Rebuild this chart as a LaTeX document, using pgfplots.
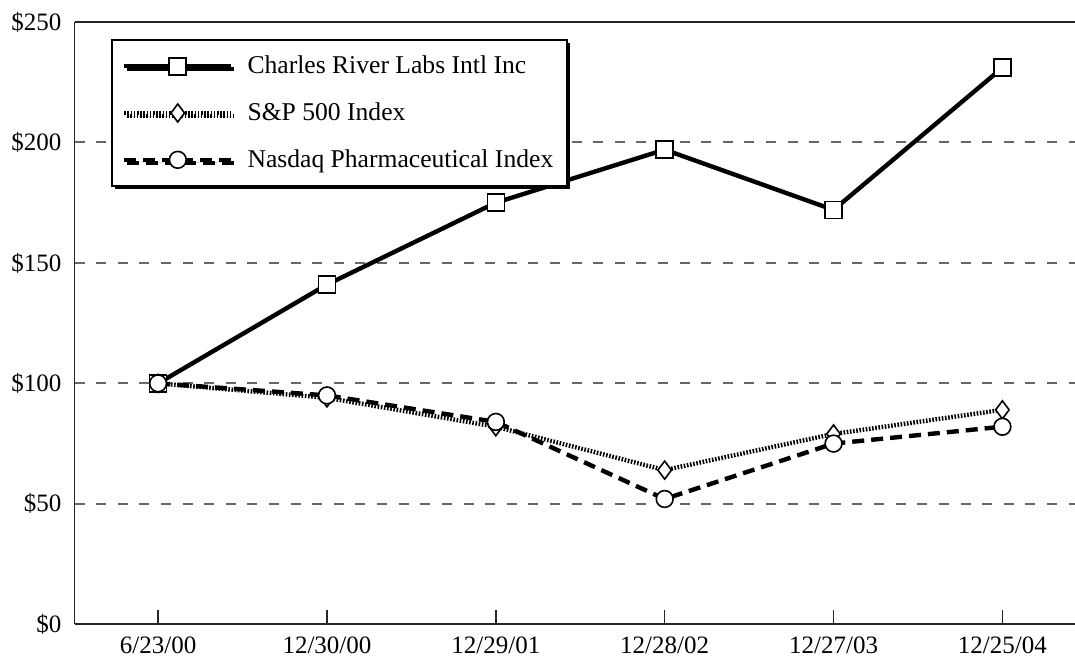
\documentclass[border=0pt]{standalone}
\usepackage{pgfplots}
\pgfplotsset{compat=1.18}
\usepackage{fontspec}
\setmainfont{Liberation Serif}
\usetikzlibrary{shadows}
\begin{document}
\begin{tikzpicture}
\begin{axis}[
  scale only axis, width=500pt, height=301pt,
  xmin=-0.495, xmax=5.43, ymin=0, ymax=250,
  axis y line*=left,
  axis line style={draw=black!85, line width=0.8pt},
  xtick={0,1,2,3,4,5},
  xticklabels={6/23/00,12/30/00,12/29/01,12/28/02,12/27/03,12/25/04},
  xtick pos=bottom, xtick align=inside,
  xtick style={draw=black!85, line width=0.8pt},
  major tick length=7pt,
  ytick={0,50,100,150,200,250},
  yticklabels={\$0,\$50,\$100,\$150,\$200,\$250},
  ytick style={draw=none},
  extra y ticks={50,100,150,200},
  extra y tick labels={},
  extra y tick style={ymajorgrids=true, ytick style={draw=none}},
  grid style={draw=black!60, line width=1pt, dash pattern=on 5pt off 5.8pt},
  tick label style={font=\fontsize{12.5}{15}\selectfont},
  yticklabel style={xshift=-3pt},
  xticklabel style={yshift=-3pt},
  legend style={at={(0.0365,0.972)}, anchor=north west, draw=black, line width=1pt,
    fill=white, font=\fontsize{12.8}{15}\selectfont, row sep=9pt,
    inner xsep=5pt, inner ysep=6pt,
    drop shadow={shadow xshift=1.5pt, shadow yshift=-1.5pt, fill=black, opacity=1}},
  legend cell align=left,
  legend image code/.code={\draw[mark repeat=2, mark phase=2] plot coordinates {(0pt,0pt) (26.75pt,0pt) (53.5pt,0pt)};
    \path (58.5pt,0pt);},
]
\addplot[black, line width=2.2pt, mark=square*, mark size=4.25pt,
  mark options={fill=white, solid, line width=0.8pt}]
  coordinates {(0,100) (1,141) (2,175) (3,197) (4,172) (5,231)};
\addlegendentry{Charles River Labs Intl Inc}
\addplot[black, line width=2.2pt, dash pattern=on 0.8pt off 0.8pt, mark=diamond*, mark size=4.5pt,
  mark options={fill=white, solid, line width=0.8pt}]
  coordinates {(0,100) (1,94) (2,82) (3,64) (4,79) (5,89)};
\addlegendentry{S\&P 500 Index}
\addplot[black, line width=2.2pt, dash pattern=on 6pt off 3.5pt, mark=*, mark size=4.2pt,
  mark options={fill=white, solid, line width=0.8pt}]
  coordinates {(0,100) (1,95) (2,84) (3,52) (4,75) (5,82)};
\addlegendentry{Nasdaq Pharmaceutical Index}
\end{axis}
\pgfresetboundingbox
\path ([xshift=-37.25pt,yshift=-21pt]current axis.south west) rectangle ([yshift=11pt]current axis.north east);
\end{tikzpicture}
\end{document}
